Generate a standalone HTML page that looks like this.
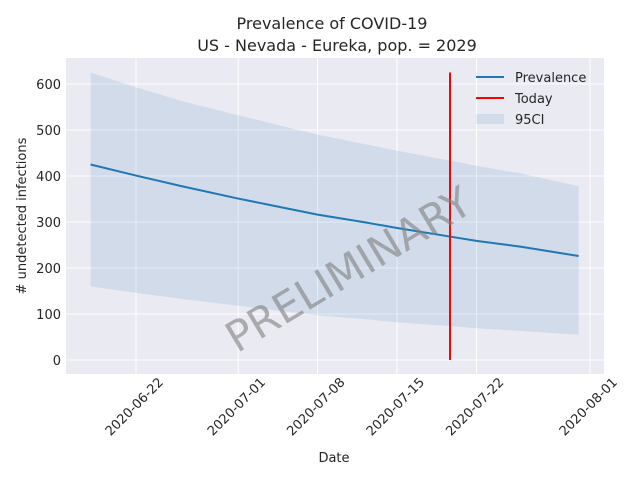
<!DOCTYPE html>
<html><head><meta charset="utf-8"><style>
body{margin:0;background:#fff;font-family:"Liberation Sans","DejaVu Sans",sans-serif;}
svg text{font-family:"DejaVu Sans","Liberation Sans",sans-serif;fill:#262626;}
</style></head><body>
<svg id="chart" width="640" height="480" viewBox="0 0 640 480">
<rect width="640" height="480" fill="#fff"/>
<text x="332" y="29" text-anchor="middle" font-size="16">Prevalence of COVID-19</text>
<text x="337" y="51" text-anchor="middle" font-size="16">US - Nevada - Eureka, pop. = 2029</text>
<rect x="66" y="58" width="538" height="316" fill="#eaeaf2"/>
<g id="grid"></g><g id="marks"></g><g id="ticks"></g>
<text x="334" y="462" text-anchor="middle" font-size="13">Date</text>
<text transform="translate(26,216) rotate(-90)" text-anchor="middle" font-size="13"># undetected infections</text>
<text transform="translate(356,282) rotate(-31)" text-anchor="middle" font-size="42" style="fill:#808080;opacity:0.6">PRELIMINARY</text>
<g>
<line x1="476" y1="77" x2="504" y2="77" stroke="#1f77b4" stroke-width="2"/>
<text x="515" y="82" font-size="13">Prevalence</text>
<line x1="476" y1="98" x2="504" y2="98" stroke="#ff0000" stroke-width="2"/>
<text x="515" y="103" font-size="13">Today</text>
<rect x="476" y="114" width="28" height="10" fill="#1f77b4" fill-opacity="0.12"/>
<text x="515" y="124" font-size="13">95CI</text>
</g>
</svg>
<script>
const dates=["2020-06-18","2020-06-22","2020-06-26","2020-07-01","2020-07-05","2020-07-08","2020-07-12","2020-07-15","2020-07-20","2020-07-22","2020-07-26","2020-07-31"];
const prevalence=[425,401,378,351,331,316,300,287,267,259,246,226];
const upper=[625,593,563,532,508,490,470,455,432,422,405,378];
const lower=[160,146,133,118,106,97,89,82,73,69,63,55];
const todayDate="2020-07-19T16:00";
const yTicks=[0,100,200,300,400,500,600];
const xTicks=["2020-06-22","2020-07-01","2020-07-08","2020-07-15","2020-07-22","2020-08-01"];
const NS="http://www.w3.org/2000/svg";
const d0=Date.parse("2020-06-22"),d1=Date.parse("2020-08-01");
function x(d){return 136+(Date.parse(d)-d0)/(d1-d0)*454;}
function y(v){return 360-v*0.46;}
function mk(t,a,p){const e=document.createElementNS(NS,t);for(const k in a)e.setAttribute(k,a[k]);document.getElementById(p).appendChild(e);return e;}
yTicks.forEach(v=>{
 const l=mk('line',{x1:66,x2:604,y1:y(v),y2:y(v),stroke:'#fff','stroke-width':1},'grid');
 
 
 const t=mk('text',{x:61,y:y(v)+5,'text-anchor':'end','font-size':13},'ticks');t.textContent=v;
 
 
});
xTicks.forEach(d=>{
 const X=x(d);
 const l=mk('line',{x1:X,x2:X,y1:58,y2:374,stroke:'#fff','stroke-width':1},'grid');
 
 
 const t=mk('text',{transform:`translate(${X+28},${383}) rotate(-45)`,'text-anchor':'end','font-size':13},'ticks');t.textContent=d;
 
 
});
let band=dates.map((d,i)=>`${x(d)},${y(upper[i])}`).concat(dates.map((d,i)=>`${x(d)},${y(lower[i])}`).reverse());
const b=mk('polygon',{points:band.join(' '),fill:'#1f77b4','fill-opacity':0.12},'marks');


const pl=mk('polyline',{points:dates.map((d,i)=>`${x(d)},${y(prevalence[i])}`).join(' '),fill:'none',stroke:'#1f77b4','stroke-width':2,'stroke-linejoin':'round'},'marks');


const tl=mk('line',{x1:x(todayDate),x2:x(todayDate),y1:y(0),y2:y(Math.max(...upper)),stroke:'#ff0000','stroke-width':2},'marks');


</script>
</body></html>
